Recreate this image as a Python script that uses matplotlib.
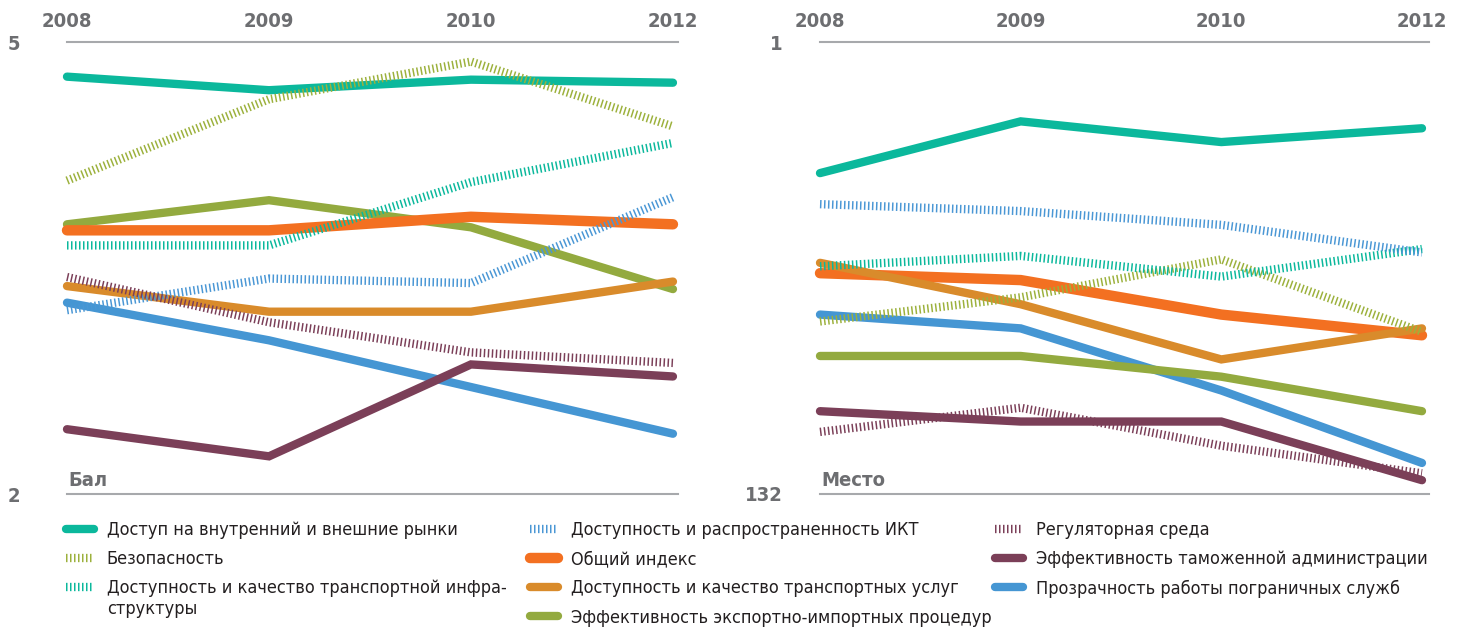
import matplotlib
matplotlib.use('Agg')
import matplotlib.pyplot as plt
from matplotlib.lines import Line2D

plt.rcParams['font.family'] = ['DejaVu Sans']
plt.rcParams['font.stretch'] = 'condensed'

years = ['2008', '2009', '2010', '2012']

# названия показателей
labels = [
    'Доступ на внутренний и внешние рынки',
    'Безопасность',
    'Доступность и качество транспортной инфра-',
    'Доступность и распространенность ИКТ',
    'Общий индекс',
    'Доступность и качество транспортных услуг',
    'Эффективность экспортно-импортных процедур',
    'Регуляторная среда',
    'Эффективность таможенной администрации',
    'Прозрачность работы пограничных служб',
]
label_tail = 'структуры'  # перенос для третьей подписи

# баллы (левый график)
score_market = [4.77, 4.68, 4.75, 4.73]
score_security = [4.08, 4.62, 4.87, 4.44]
score_infra = [3.65, 3.65, 4.07, 4.33]
score_ict = [3.22, 3.43, 3.40, 3.97]
score_total = [3.75, 3.75, 3.84, 3.79]
score_services = [3.38, 3.21, 3.21, 3.41]
score_export = [3.79, 3.95, 3.77, 3.36]
score_regul = [3.44, 3.14, 2.94, 2.87]
score_customs = [2.43, 2.25, 2.86, 2.78]
score_border = [3.27, 3.02, 2.71, 2.40]

# места (правый график)
rank_market = [39, 24, 30, 26]
rank_security = [82, 75, 64, 85]
rank_infra = [66, 63, 69, 61]
rank_ict = [48, 50, 54, 62]
rank_total = [68, 70, 80, 86]
rank_services = [65, 77, 93, 84]
rank_export = [92, 92, 98, 108]
rank_regul = [114, 107, 118, 126]
rank_customs = [108, 111, 111, 128]
rank_border = [80, 84, 102, 123]

scores = [score_market, score_security, score_infra, score_ict, score_total,
          score_services, score_export, score_regul, score_customs, score_border]
ranks = [rank_market, rank_security, rank_infra, rank_ict, rank_total,
         rank_services, rank_export, rank_regul, rank_customs, rank_border]

colors = ['#0bb89c', '#9cb13c', '#0bb89c', '#4a97d5', '#f37021',
          '#d98b2b', '#93aa3f', '#7b3f58', '#7b3f58', '#4596d3']
hatched = [False, True, True, True, False, False, False, True, False, False]
widths = [6, 6, 6, 6, 7.5, 6, 6, 6, 6, 6]
zorders = [5, 7, 7, 7, 4, 5, 3, 7, 3, 2]

gray = '#6d6e71'
linegray = '#a7a9ac'
hatch_dash = (0, (0.18, 0.3))


def style(i):
    kw = dict(color=colors[i], lw=widths[i], zorder=zorders[i], clip_on=False)
    if hatched[i]:
        kw.update(linestyle=hatch_dash, dash_capstyle='butt')
    else:
        kw.update(solid_capstyle='round', solid_joinstyle='miter')
    return kw


fig = plt.figure(figsize=(14.65, 6.28), dpi=100)
ax1 = fig.add_axes([67 / 1465, 134 / 628, 611 / 1465, 452 / 628])
ax2 = fig.add_axes([820 / 1465, 134 / 628, 609 / 1465, 452 / 628])

x = list(range(len(years)))
for i in range(len(labels)):
    ax1.plot(x, scores[i], **style(i))
    ax2.plot(x, ranks[i], **style(i))

ax1.set_ylim(2, 5)
ax1.set_xlim(0, 3.025)
ax2.set_ylim(132, 1)
ax2.set_xlim(0, 3.035)

for ax, yt, ypad, name in [(ax1, [2, 5], 34, 'Бал'), (ax2, [132, 1], 27, 'Место')]:
    for s in ['left', 'right']:
        ax.spines[s].set_visible(False)
    for s in ['top', 'bottom']:
        ax.spines[s].set_color(linegray)
        ax.spines[s].set_linewidth(1.5)
    ax.xaxis.tick_top()
    ax.set_xticks(x)
    ax.set_xticklabels(years)
    ax.set_yticks(yt)
    ax.tick_params(length=0)
    ax.tick_params(axis='x', pad=8, labelsize=14.5, labelcolor=gray)
    ax.tick_params(axis='y', pad=ypad, labelsize=14.5, labelcolor=gray)
    for t in ax.get_xticklabels() + ax.get_yticklabels():
        t.set_fontweight('bold')
    ax.text(0.002, 0.008, name, transform=ax.transAxes, ha='left', va='bottom',
            fontsize=14.5, fontweight='bold', color=gray)

# легенда в три колонки
def handle(i):
    kw = style(i)
    kw.pop('clip_on')
    kw.pop('zorder')
    return Line2D([], [], **kw)

cols = [[0, 1, 2], [3, 4, 5, 6], [7, 8, 9]]
anchors = [(66 / 1465, 1 - 521 / 628), (530 / 1465, 1 - 521 / 628), (995 / 1465, 1 - 521 / 628)]
legs = []
for col, anc in zip(cols, anchors):
    leg = fig.legend([handle(i) for i in col], [labels[i] for i in col],
                     loc='upper left', bbox_to_anchor=anc, frameon=False,
                     fontsize=13, handlelength=1.55, handletextpad=0.7,
                     labelspacing=0.62, borderpad=0, borderaxespad=0)
    for t in leg.get_texts():
        t.set_color('#231f20')
    legs.append(leg)

# вторая строка переносимой подписи
fig.canvas.draw()
bb = legs[0].get_texts()[2].get_window_extent()
fig.text(bb.x0 / fig.bbox.width, (bb.y0 - 3) / fig.bbox.height, label_tail,
         ha='left', va='top', fontsize=13, color='#231f20')

fig.savefig('out.png', dpi=100)
